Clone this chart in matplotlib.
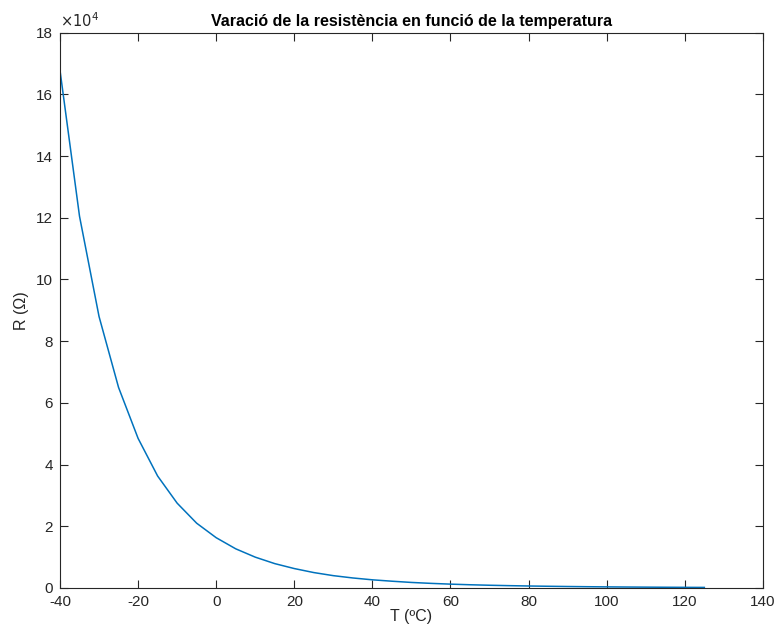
import matplotlib
matplotlib.use("Agg")
import matplotlib.pyplot as plt
from matplotlib.ticker import FuncFormatter
import numpy as np

# Resistència del termistor NTC (Ω) cada 5 ºC
temperatura = [-40, -35, -30, -25, -20, -15, -10, -5, 0, 5, 10, 15, 20, 25, 30,
               35, 40, 45, 50, 55, 60, 65, 70, 75, 80, 85, 90, 95, 100, 105,
               110, 115, 120, 125]
resistencia = [167800, 120500, 88000, 65000, 48500, 36300, 27500, 21000, 16300,
               12700, 10000, 7900, 6300, 5000, 4000, 3250, 2650, 2200, 1800,
               1500, 1250, 1050, 890, 760, 650, 560, 480, 415, 360, 315, 275,
               240, 210, 185]

plt.rcParams['font.family'] = ['Liberation Sans', 'DejaVu Sans']
plt.rcParams['axes.unicode_minus'] = False
gris = '#262626'

fig = plt.figure(figsize=(7.75, 6.28), dpi=100)
ax = fig.add_axes([0.0774, 0.0637, 0.907, 0.8843])

ax.plot(temperatura, resistencia, color='#0072BD', lw=1.1)

ax.set_xlim(-40, 140)
ax.set_ylim(0, 180000)
ax.set_xticks(np.arange(-40, 141, 20))
ax.set_yticks(np.arange(0, 180001, 20000))
# etiquetes en unitats de 10^4, amb el multiplicador a dalt
ax.yaxis.set_major_formatter(FuncFormatter(lambda v, p: f'{v / 1e4:g}'))
ax.text(0.0, 1.005, r'$\times 10^4$', transform=ax.transAxes, fontsize=10.5,
        color=gris, ha='left', va='bottom')

ax.tick_params(direction='in', length=6, width=0.8, top=True, right=True,
               labelsize=11, colors=gris)
ax.tick_params(axis='x', pad=5)
ax.tick_params(axis='y', pad=5)
for s in ax.spines.values():
    s.set_color(gris)
    s.set_linewidth(0.8)

ax.set_xlabel('T (ºC)', fontsize=11.5, color=gris, labelpad=0)
ax.set_ylabel('R (Ω)', fontsize=11.5, color=gris, labelpad=5)
ax.set_title('Varació de la resistència en funció de la temperatura',
             fontsize=11.5, fontweight='bold', color='black', pad=5)

fig.savefig('out.png', dpi=100)
